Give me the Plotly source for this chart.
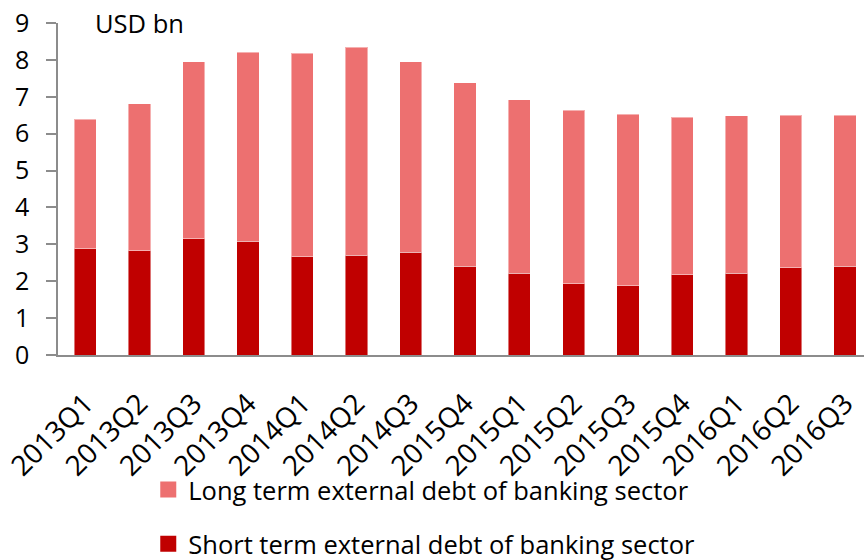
import plotly.graph_objects as go

# Quarterly external debt of the banking sector, USD bn
quarters = ["2013Q1", "2013Q2", "2013Q3", "2013Q4", "2014Q1", "2014Q2", "2014Q3",
            "2015Q4", "2015Q1", "2015Q2", "2015Q3", "2015Q4", "2016Q1", "2016Q2", "2016Q3"]
# category positions (two quarters share the label "2015Q4")
positions = list(range(len(quarters)))

short_term = [2.88, 2.82, 3.15, 3.09, 2.67, 2.71, 2.79, 2.40, 2.22, 1.93, 1.88, 2.17, 2.22, 2.37, 2.40]
total_debt = [6.39, 6.81, 7.95, 8.21, 8.18, 8.34, 7.95, 7.38, 6.92, 6.63, 6.53, 6.45, 6.48, 6.50, 6.50]
long_term = [round(t - s, 2) for t, s in zip(total_debt, short_term)]

y_ticks = list(range(0, 10))

FONT = "Open Sans"
SHORT_COLOR = "#C00000"
LONG_COLOR = "#ED7070"
EDGE = "rgba(255,255,255,0.45)"

fig = go.Figure()
fig.add_trace(go.Bar(
    x=positions, y=short_term, name="Short term external debt of banking sector",
    marker=dict(color=SHORT_COLOR, line=dict(color=EDGE, width=1)),
    width=0.41, showlegend=False,
))
fig.add_trace(go.Bar(
    x=positions, y=long_term, name="Long term external debt of banking sector",
    marker=dict(color=LONG_COLOR, line=dict(color=EDGE, width=1)),
    width=0.41, showlegend=False,
))

# legend keys: square swatches in the series colours
for name, color, group in [("Long term external debt of banking sector", LONG_COLOR, "a"),
                           ("Short term external debt of banking sector", SHORT_COLOR, "b")]:
    fig.add_trace(go.Scatter(
        x=[None], y=[None], mode="markers", name=name, legendgroup=group,
        marker=dict(symbol="square", size=16, color=color),
    ))

fig.update_layout(
    width=864, height=560,
    barmode="stack",
    plot_bgcolor="white", paper_bgcolor="white",
    margin=dict(l=58, r=0, t=23, b=205, autoexpand=False),
    font=dict(family=FONT, size=25, color="#000000"),
    showlegend=True,
    legend=dict(
        orientation="v", x=0.1716, xref="container", xanchor="left",
        y=0.167, yref="container", yanchor="top",
        traceorder="grouped", tracegroupgap=18,
        bgcolor="rgba(0,0,0,0)",
        font=dict(family=FONT, size=25.5, color="#000000"),
        itemwidth=30,
    ),
    xaxis=dict(
        tickmode="array", tickvals=positions, ticktext=quarters,
        range=[-0.5, 14.35], tickangle=-45,
        showline=True, linecolor="#8C8C8C", linewidth=2,
        ticks="", showgrid=False, zeroline=False,
        tickfont=dict(family=FONT, size=28),
        ticklabelstandoff=19, automargin=False,
    ),
    yaxis=dict(
        range=[0, 9], tickmode="array", tickvals=y_ticks,
        showline=True, linecolor="#8C8C8C", linewidth=1.5,
        ticks="outside", ticklen=10, tickcolor="#8C8C8C", tickwidth=1.5,
        showgrid=False, zeroline=False,
        tickfont=dict(family=FONT, size=25),
        ticklabelstandoff=12, automargin=False,
    ),
    annotations=[dict(
        text="USD bn", xref="paper", yref="paper", x=0.043, y=1.0,
        xanchor="left", yanchor="middle", showarrow=False,
        font=dict(family=FONT, size=25.5, color="#000000"),
    )],
)

fig.write_html("out.html")
